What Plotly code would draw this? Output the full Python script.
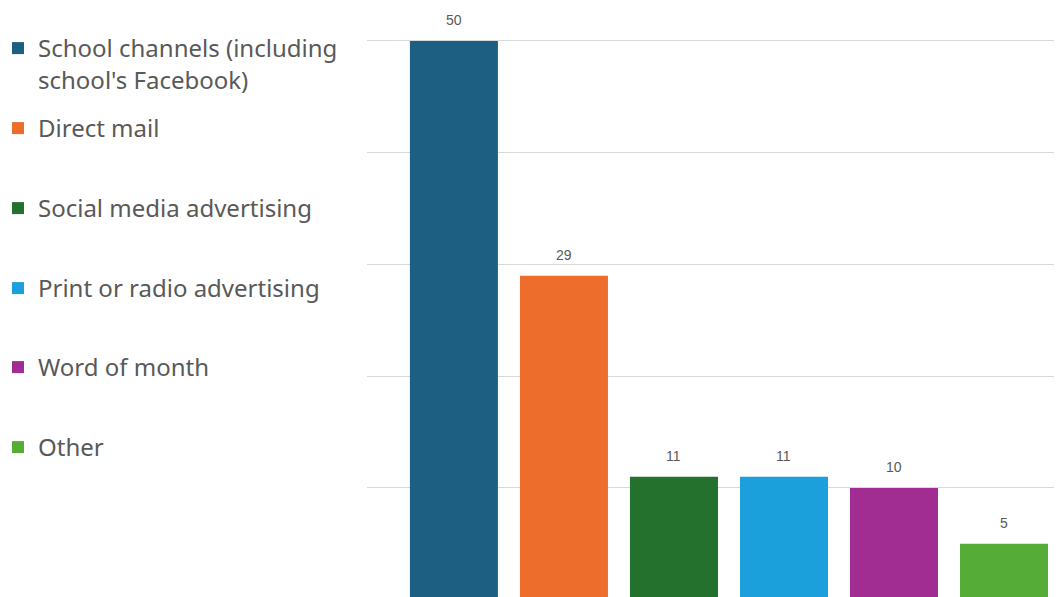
import plotly.graph_objects as go

categories = ["School channels (including<br>school's Facebook)", "Direct mail",
              "Social media advertising", "Print or radio advertising",
              "Word of month", "Other"]
values = [50, 29, 11, 11, 10, 5]
colors = ["#1D5F83", "#EC6D2C", "#24702D", "#1BA0DB", "#A12C92", "#55AC36"]

legend_y = [48, 128, 208, 288, 367, 447]  # pixel centres of legend entries (top-down)
W = 1054
H = 589
L = 359
PW = W - L

fig = go.Figure()
for i, (c, v, col) in enumerate(zip(categories, values, colors)):
    lg = "legend" if i == 0 else f"legend{i+1}"
    fig.add_trace(go.Bar(
        x=[i], y=[v], name=c, marker=dict(color=col, line=dict(width=0)),
        width=0.8, legend=lg, showlegend=True,
    ))
    fig.add_annotation(x=i, y=v, text=str(v), showarrow=False, yshift=21,
                       font=dict(family="Liberation Sans", size=14, color="#595959"))

layout_legends = {}
for i, ly in enumerate(legend_y):
    key = "legend" if i == 0 else f"legend{i+1}"
    layout_legends[key] = dict(
        x=(-10 - L) / PW, xref="paper", xanchor="left",
        y=1 - (ly - 30) / H, yref="paper", yanchor="top",
        font=dict(family="Noto Sans", size=24, color="#595959"),
        bgcolor="rgba(0,0,0,0)", valign="top", itemwidth=30,
    )

fig.update_layout(
    width=W, height=H,
    margin=dict(l=L, r=0, t=0, b=0, autoexpand=False),
    paper_bgcolor="white", plot_bgcolor="white",
    barmode="overlay",
    showlegend=True,
    xaxis=dict(range=[-0.79, 5.527], showticklabels=False, showgrid=False,
               zeroline=False, showline=False, ticks=""),
    yaxis=dict(range=[0.246, 52.95], dtick=10, showticklabels=False,
               showgrid=True, gridcolor="#D9D9D9", gridwidth=1.3,
               zeroline=False, showline=False, ticks=""),
    **layout_legends,
)

fig.write_html("out.html")
